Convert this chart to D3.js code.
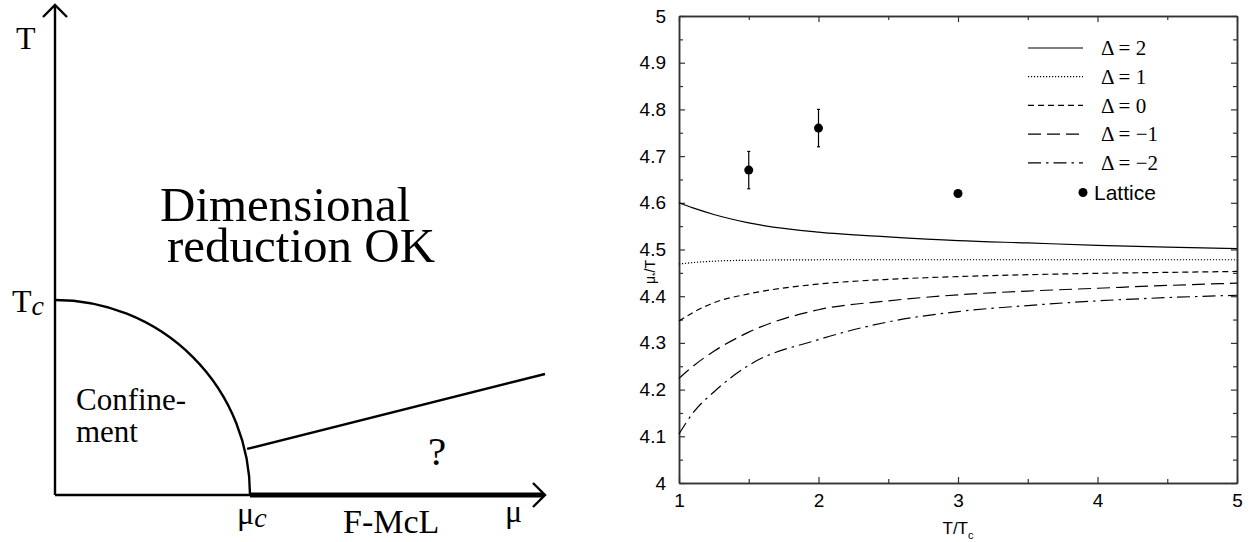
<!DOCTYPE html>
<html>
<head>
<meta charset="utf-8">
<script src="https://cdn.jsdelivr.net/npm/d3@7"></script>
<style>
  html, body { margin: 0; padding: 0; background: #fff; }
  svg { display: block; }
</style>
</head>
<body>
<div id="chart"></div>
<script>
// ── Data ───────────────────────────────────────────────────────────────────
// Right panel: mu_*/T vs T/Tc for several Delta values
const tRatio   = [1, 1.1, 1.25, 1.5, 2, 2.5, 3, 3.5, 4, 4.5, 5];
const deltaP2  = [4.600, 4.589, 4.575, 4.557, 4.537, 4.527, 4.519, 4.514, 4.509, 4.505, 4.502];
const deltaP1  = [4.469, 4.472, 4.475, 4.477, 4.478, 4.478, 4.478, 4.478, 4.478, 4.478, 4.478];
const delta0   = [4.347, 4.365, 4.386, 4.405, 4.426, 4.436, 4.442, 4.446, 4.449, 4.451, 4.453];
const deltaM1  = [4.224, 4.250, 4.282, 4.323, 4.371, 4.390, 4.403, 4.411, 4.417, 4.423, 4.428];
const deltaM2  = [4.105, 4.150, 4.195, 4.252, 4.307, 4.345, 4.367, 4.380, 4.390, 4.397, 4.402];
const seriesLabels = ["\u0394 = 2", "\u0394 = 1", "\u0394 = 0", "\u0394 = \u22121", "\u0394 = \u22122"];

const latticeX   = [1.5, 2, 3];
const latticeY   = [4.67, 4.76, 4.62];
const latticeErr = [0.04, 0.04, 0.004];

const xTicks      = [1, 2, 3, 4, 5];
const xMinorTicks = [1.5, 2.5, 3.5, 4.5];
const yTicks      = [4, 4.1, 4.2, 4.3, 4.4, 4.5, 4.6, 4.7, 4.8, 4.9, 5];
const yMinorTicks = [4.05, 4.15, 4.25, 4.35, 4.45, 4.55, 4.65, 4.75, 4.85, 4.95];

// Left panel: schematic phase diagram in unit coordinates (mu, T)
const Tc  = 0.398;
const muC = 0.398;
const boundaryMu = [0.392, 1.0];
const boundaryT  = [0.094, 0.247];

// ── Setup ──────────────────────────────────────────────────────────────────
const W = 1253, H = 542;
const svg = d3.select("#chart").append("svg")
  .attr("width", W).attr("height", H)
  .attr("viewBox", `0 0 ${W} ${H}`);
svg.append("rect").attr("width", W).attr("height", H).attr("fill", "#fff");

const SERIF = "'Liberation Serif', 'Times New Roman', serif";
const SANS  = "'Liberation Sans', Arial, Helvetica, sans-serif";

// ── Left panel: phase diagram ──────────────────────────────────────────────
(function () {
  const mu = d3.scaleLinear().domain([0, 1]).range([55, 545]);
  const T  = d3.scaleLinear().domain([0, 1]).range([495, 5]);
  const g = svg.append("g");
  const lw = 2.4;

  // axes
  g.append("line").attr("x1", mu(0)).attr("y1", T(0)).attr("x2", mu(0)).attr("y2", T(1))
    .attr("stroke", "#000").attr("stroke-width", lw);
  g.append("line").attr("x1", mu(0)).attr("y1", T(0)).attr("x2", mu(1)).attr("y2", T(0))
    .attr("stroke", "#000").attr("stroke-width", lw);
  // thick F-McL segment
  g.append("line").attr("x1", mu(muC)).attr("y1", T(0)).attr("x2", mu(1) - 2).attr("y2", T(0))
    .attr("stroke", "#000").attr("stroke-width", 5);

  // arrowheads
  g.append("path")
    .attr("d", `M${mu(0) - 12},${T(1) + 12} L${mu(0)},${T(1)} L${mu(0) + 12},${T(1) + 12}`)
    .attr("fill", "none").attr("stroke", "#000").attr("stroke-width", lw);
  g.append("path")
    .attr("d", `M${mu(1) - 12},${T(0) - 12} L${mu(1)},${T(0)} L${mu(1) - 12},${T(0) + 12}`)
    .attr("fill", "none").attr("stroke", "#000").attr("stroke-width", lw);

  // confinement arc (quarter ellipse from Tc to muC)
  const rx = mu(muC) - mu(0), ry = T(0) - T(Tc);
  g.append("path")
    .attr("d", `M${mu(0)},${T(Tc)} A${rx},${ry} 0 0 1 ${mu(muC)},${T(0)}`)
    .attr("fill", "none").attr("stroke", "#000").attr("stroke-width", lw);

  // boundary line
  g.append("line")
    .attr("x1", mu(boundaryMu[0])).attr("y1", T(boundaryT[0]))
    .attr("x2", mu(boundaryMu[1])).attr("y2", T(boundaryT[1]))
    .attr("stroke", "#000").attr("stroke-width", lw);

  // labels
  const txt = (x, y, s, size, anchor) => g.append("text")
    .attr("x", x).attr("y", y)
    .attr("font-family", SERIF).attr("font-size", size)
    .attr("text-anchor", anchor || "start").text(s);

  txt(16, 49, "T", 32);
  const tc = txt(12, 312, "T", 32);
  tc.append("tspan").attr("font-style", "italic").attr("font-size", 28).attr("dy", 3).text("c");

  const mc = txt(237, 524, "\u03bc", 32);
  mc.append("tspan").attr("font-style", "italic").attr("font-size", 28).attr("dy", 3).text("c");
  txt(505, 522, "\u03bc", 32);
  txt(343, 533, "F-McL", 34);

  // two-line region label kept in one text element
  const dim = g.append("text")
    .attr("font-family", SERIF).attr("font-size", 49);
  dim.append("tspan").attr("x", 160).attr("y", 221).text("Dimensional");
  dim.append("tspan").attr("x", 167).attr("y", 262).text("reduction OK");

  const conf = g.append("text")
    .attr("font-family", SERIF).attr("font-size", 31);
  conf.append("tspan").attr("x", 76).attr("y", 410).text("Confine-");
  conf.append("tspan").attr("x", 76).attr("y", 442).text("ment");

  txt(437, 465, "?", 41, "middle");
})();

// ── Right panel: mu_*/T vs T/Tc ────────────────────────────────────────────
(function () {
  const x = d3.scaleLinear().domain([1, 5]).range([679, 1237]);
  const y = d3.scaleLinear().domain([4, 5]).range([483, 16]);
  const g = svg.append("g");
  const frameColor = "#333";

  const fmt = d => String(+d.toFixed(1));

  function styleAxis(sel, withText) {
    sel.select(".domain").attr("stroke", frameColor).attr("stroke-width", 1.5);
    sel.selectAll(".tick line").attr("stroke", frameColor).attr("stroke-width", 1.2);
    sel.selectAll(".tick text")
      .attr("font-family", SANS).attr("font-size", 19).attr("fill", "#000");
    if (!withText) sel.selectAll(".tick text").remove();
  }

  // bottom
  g.append("g").attr("transform", `translate(0,${y(4)})`)
    .call(d3.axisBottom(x).tickValues(xTicks).tickFormat(fmt).tickSizeInner(-6).tickSizeOuter(0).tickPadding(11))
    .call(s => styleAxis(s, true));
  g.append("g").attr("transform", `translate(0,${y(4)})`)
    .call(d3.axisBottom(x).tickValues(xMinorTicks).tickSizeInner(-4).tickSizeOuter(0))
    .call(s => styleAxis(s, false));
  // top
  g.append("g").attr("transform", `translate(0,${y(5)})`)
    .call(d3.axisTop(x).tickValues(xTicks).tickSizeInner(-6).tickSizeOuter(0))
    .call(s => styleAxis(s, false));
  g.append("g").attr("transform", `translate(0,${y(5)})`)
    .call(d3.axisTop(x).tickValues(xMinorTicks).tickSizeInner(-4).tickSizeOuter(0))
    .call(s => styleAxis(s, false));
  // left
  g.append("g").attr("transform", `translate(${x(1)},0)`)
    .call(d3.axisLeft(y).tickValues(yTicks).tickFormat(fmt).tickSizeInner(-6).tickSizeOuter(0).tickPadding(13))
    .call(s => styleAxis(s, true));
  g.append("g").attr("transform", `translate(${x(1)},0)`)
    .call(d3.axisLeft(y).tickValues(yMinorTicks).tickSizeInner(-4).tickSizeOuter(0))
    .call(s => styleAxis(s, false));
  // right
  g.append("g").attr("transform", `translate(${x(5)},0)`)
    .call(d3.axisRight(y).tickValues(yTicks).tickSizeInner(-6).tickSizeOuter(0))
    .call(s => styleAxis(s, false));
  g.append("g").attr("transform", `translate(${x(5)},0)`)
    .call(d3.axisRight(y).tickValues(yMinorTicks).tickSizeInner(-4).tickSizeOuter(0))
    .call(s => styleAxis(s, false));

  // axis titles
  const xt = g.append("text").attr("x", x(3)).attr("y", 534)
    .attr("text-anchor", "middle").attr("font-family", SANS).attr("font-size", 17).text("T/T");
  xt.append("tspan").attr("font-size", 11).attr("dy", 5).text("c");

  const yt = g.append("text")
    .attr("transform", `translate(655,272) rotate(-90)`)
    .attr("text-anchor", "middle").attr("font-family", SANS).attr("font-size", 14).text("\u03bc");
  yt.append("tspan").attr("font-size", 9).attr("dy", 3).text("*");
  yt.append("tspan").attr("font-size", 14).attr("dy", -3).text("/T");

  // curves
  const series = [deltaP2, deltaP1, delta0, deltaM1, deltaM2];
  const dashes = [null, "1.2,1.8", "6,4", "13,6", "13,5,2.5,5"];
  const line = d3.line()
    .x((d, i) => x(tRatio[i]))
    .y(d => y(d))
    .curve(d3.curveMonotoneX);

  series.forEach(function (vals, k) {
    g.append("path")
      .datum(vals)
      .attr("d", line)
      .attr("fill", "none")
      .attr("stroke", "#000")
      .attr("stroke-width", 1.2)
      .attr("stroke-dasharray", dashes[k]);
  });

  // lattice points with error bars
  latticeX.forEach(function (lx, i) {
    const cx = x(lx);
    const y0 = y(latticeY[i] - latticeErr[i]), y1 = y(latticeY[i] + latticeErr[i]);
    g.append("line").attr("x1", cx).attr("x2", cx).attr("y1", y0).attr("y2", y1)
      .attr("stroke", "#000").attr("stroke-width", 1.2);
    [y0, y1].forEach(function (yy) {
      g.append("line").attr("x1", cx - 1.5).attr("x2", cx + 1.5).attr("y1", yy).attr("y2", yy)
        .attr("stroke", "#000").attr("stroke-width", 1.2);
    });
    g.append("circle").attr("cx", cx).attr("cy", y(latticeY[i])).attr("r", 4.5).attr("fill", "#000");
  });

  // legend
  const lgX0 = 1028, lgX1 = 1083, lgText = 1101, lgY0 = 48, lgStep = 28.7;
  seriesLabels.forEach(function (lab, k) {
    const yy = lgY0 + k * lgStep;
    g.append("line").attr("x1", lgX0).attr("x2", lgX1).attr("y1", yy).attr("y2", yy)
      .attr("stroke", "#000").attr("stroke-width", 1.2)
      .attr("stroke-dasharray", dashes[k]);
    g.append("text").attr("x", lgText).attr("y", yy).attr("dy", "0.35em")
      .attr("font-family", SERIF).attr("font-size", 21).text(lab);
  });
  const latY = lgY0 + 5 * lgStep + 1;
  g.append("circle").attr("cx", 1083).attr("cy", latY).attr("r", 4.5).attr("fill", "#000");
  g.append("text").attr("x", 1094).attr("y", latY).attr("dy", "0.36em")
    .attr("font-family", SANS).attr("font-size", 21).text("Lattice");
})();
</script>
</body>
</html>
